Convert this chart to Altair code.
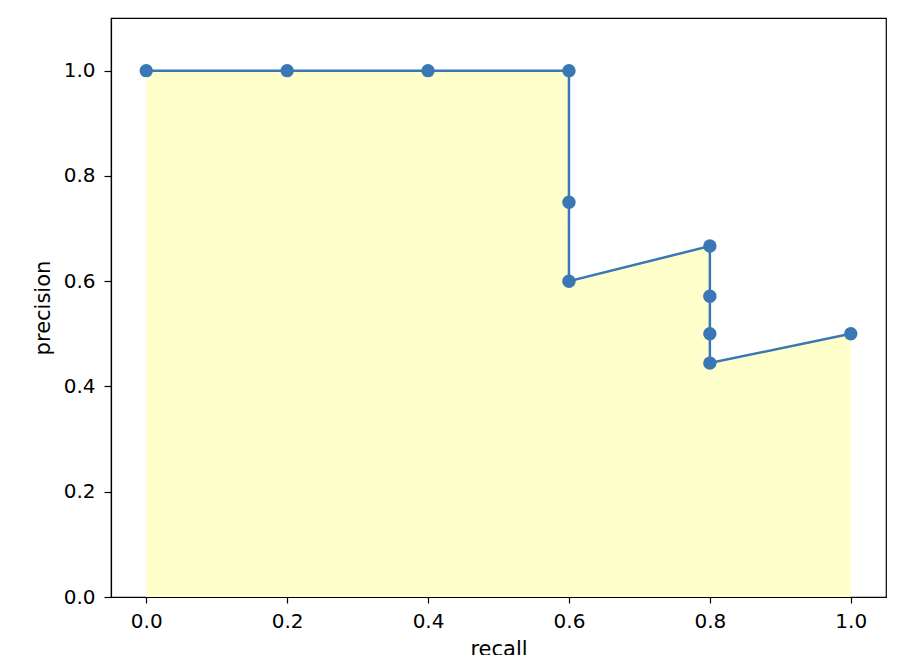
import altair as alt
import pandas as pd

recall = [0.0, 0.2, 0.4, 0.6, 0.6, 0.6, 0.8, 0.8, 0.8, 0.8, 1.0]
precision = [1.0, 1.0, 1.0, 1.0, 0.75, 0.6, 0.6667, 0.5714, 0.5, 0.4444, 0.5]

df = pd.DataFrame({"recall": recall, "precision": precision, "idx": list(range(len(recall)))})

xs = alt.Scale(domain=[-0.05, 1.05], nice=False, zero=False)
ys = alt.Scale(domain=[0, 1.1], nice=False)

ticks = [0, 0.2, 0.4, 0.6, 0.8, 1.0]
fnt = "DejaVu Sans"
common = dict(format=".1f", grid=False, labelFont=fnt, titleFont=fnt,
              labelFontSize=20, titleFontSize=21, titleFontWeight="normal",
              labelColor="black", titleColor="black", domainColor="black",
              tickColor="black", domainWidth=1.2, tickWidth=1.2)
xax = alt.Axis(values=ticks, title="recall", tickSize=6, labelPadding=8, titlePadding=7, **common)
yax = alt.Axis(values=ticks, title="precision", tickSize=7, labelPadding=9, titlePadding=10, **common)

X = alt.X("recall:Q", scale=xs, axis=xax)
Y = alt.Y("precision:Q", scale=ys, axis=yax)

base = alt.Chart(df)
area = base.mark_area(color="#ffffcc", opacity=1).encode(
    x=X,
    y=alt.Y("precision:Q", scale=ys, axis=yax, stack=None),
)
line = base.mark_line(color="#3a78b5", strokeWidth=2.5).encode(
    x=X,
    y=Y,
    order=alt.Order("idx:Q"),
)
pts = base.mark_circle(color="#3a78b5", opacity=1, size=180).encode(
    x=X,
    y=Y,
)

chart = alt.layer(area, line, pts).properties(
    width=775, height=579,
    autosize=alt.AutoSizeParams(type="none"),
    padding={"left": 103, "top": 10, "right": 10, "bottom": 60},
).configure_view(stroke="black", strokeWidth=1.2)

chart.save("out.html", embed_options={"renderer": "svg", "actions": False})
